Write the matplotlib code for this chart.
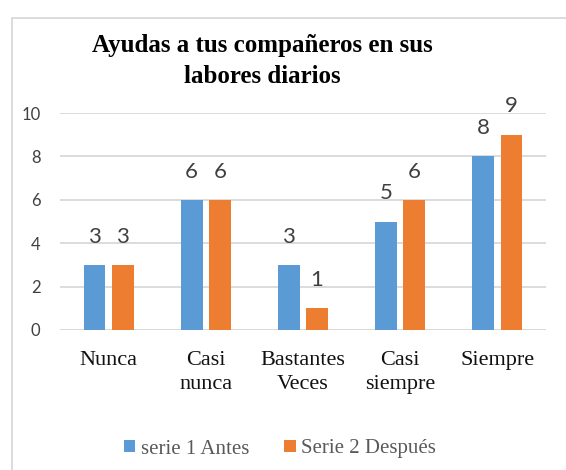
import numpy as np
import matplotlib.pyplot as plt
from matplotlib.patches import Rectangle

# data
categorias = ['Nunca', 'Casi\nnunca', 'Bastantes\nVeces', 'Casi\nsiempre', 'Siempre']
antes = [3, 6, 3, 5, 8]
despues = [3, 6, 1, 6, 9]
series = ['serie 1 Antes', 'Serie 2 Después']
titulo = ['Ayudas a tus compañeros en sus', 'labores diarios']

azul = '#5B9BD5'
naranja = '#ED7D31'
gris = '#D9D9D9'

W, H = 566, 470
fig = plt.figure(figsize=(W / 100, H / 100), dpi=100)

# chart frame
fig.patches.append(Rectangle((12 / W, -0.1), 1.2, (H - 18) / H + 0.1, transform=fig.transFigure,
                             fill=False, edgecolor=gris, linewidth=1.3))

ax = fig.add_axes([60 / W, (H - 330) / H, 486 / W, 217 / H])
x = np.arange(len(categorias))
w = 0.225
b1 = ax.bar(x - 0.145, antes, w, color=azul, label=series[0], zorder=3)
b2 = ax.bar(x + 0.145, despues, w, color=naranja, label=series[1], zorder=3)

for bars, vals in ((b1, antes), (b2, despues)):
    for r, v in zip(bars, vals):
        ax.annotate(str(v), (r.get_x() + r.get_width() / 2, v), xytext=(0, 16),
                    textcoords='offset points', ha='center', va='baseline',
                    fontsize=16, color='#404040', family='Lato')

ax.set_xlim(-0.5, 4.5)
ax.set_ylim(0, 10)
ax.set_yticks(range(0, 11, 2))
ax.yaxis.grid(True, color=gris, linewidth=1.3, zorder=0)
for s in ax.spines.values():
    s.set_visible(False)
ax.axhline(0, color=gris, linewidth=1.3, zorder=1)
ax.tick_params(axis='both', length=0)
ax.tick_params(axis='y', pad=14, labelsize=12, labelcolor='#404040')
for t in ax.get_yticklabels():
    t.set_family('Lato')
ax.set_xticks(x)
ax.set_xticklabels(categorias, family='Liberation Serif', fontsize=16, color='#111111',
                   linespacing=1.4)
ax.tick_params(axis='x', pad=15)

# two-line title
for linea, base in zip(titulo, (52, 83)):
    fig.text(262 / W, 1 - base / H, linea, ha='center', va='baseline',
             family='Liberation Serif', fontweight='bold', fontsize=18)

fig.legend(handles=[b1, b2], loc='center', bbox_to_anchor=(280 / W, 1 - 449 / H), ncol=2,
           frameon=False, prop={'family': 'Liberation Serif', 'size': 15},
           labelcolor='#595959', handlelength=0.55, handleheight=0.55, handletextpad=0.25,
           columnspacing=1.7)

fig.savefig('out.png', dpi=100)
